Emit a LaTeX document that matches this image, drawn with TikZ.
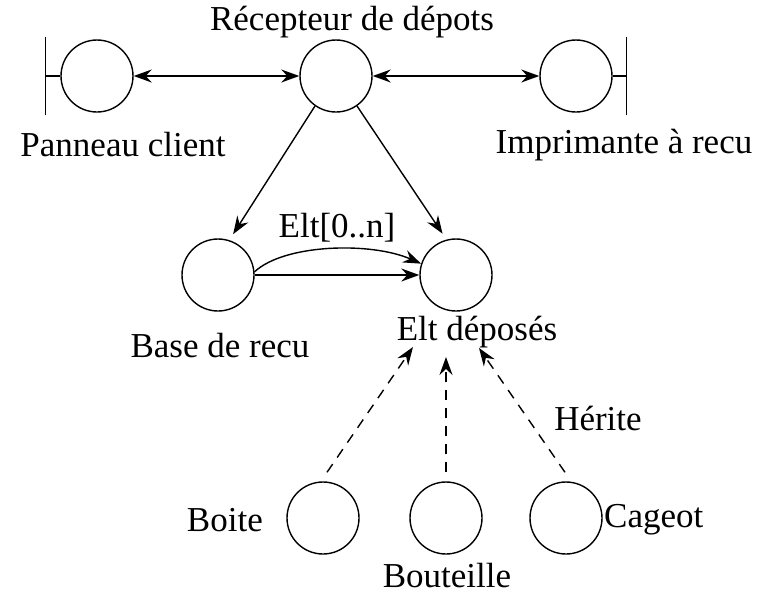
\documentclass[tikz,border=0pt]{standalone}
\usepackage{fontspec}
\setmainfont{Liberation Serif}
\usetikzlibrary{arrows.meta}
\begin{document}
\begin{tikzpicture}[x=1pt,y=-1pt,
  obj/.style={circle,draw,line width=1.4pt,minimum size=72pt,inner sep=0pt},
  lbl/.style={font=\fontsize{35}{37}\selectfont,inner sep=0pt},
  link/.style={line width=1.4pt,-{Stealth[length=18pt,width=13pt,inset=6pt]}},
  blink/.style={line width=1.4pt,{Stealth[length=18pt,width=13pt,inset=6pt]}-{Stealth[length=18pt,width=13pt,inset=6pt]}},
  inh/.style={link,dash pattern=on 10pt off 8pt}]
\useasboundingbox (0,0) rectangle (761,595);

% objects
\node[obj] (pc) at (97,76) {};
\node[obj] (rd) at (336,76) {};
\node[obj] (im) at (576,76) {};
\node[obj] (br) at (218,275) {};
\node[obj] (ed) at (456,275) {};
\node[obj] (bo) at (323,518) {};
\node[obj] (bt) at (446,518) {};
\node[obj] (ca) at (566,518) {};

% interface bars
\coordinate (pcb) at ([xshift=-15pt]pc.west);
\draw[line width=1.4pt] (pc.west) -- (pcb);
\draw[line width=1.4pt] ([yshift=-39pt]pcb) -- ([yshift=39pt]pcb);
\coordinate (imb) at ([xshift=14pt]im.east);
\draw[line width=1.4pt] (im.east) -- (imb);
\draw[line width=1.4pt] ([yshift=-39pt]imb) -- ([yshift=39pt]imb);

% labels
\node[lbl] (lrd) at (352,22) {Récepteur de dépots};
\node[lbl] (lpc) at (123,145) {Panneau client};
\node[lbl] (lim) at (624,145) {Imprimante à recu};
\node[lbl] (lbr) at (220,346) {Base de recu};
\node[lbl] (led) at (477,332) {Elt déposés};
\node[lbl] (lel) at (337,228) {Elt[0..n]};
\node[lbl] (lhe) at (598,418) {Hérite};
\node[lbl,anchor=east] (lbo) at (263,520) {Boite};
\node[lbl] (lbt) at (447,576) {Bouteille};
\node[lbl,anchor=west] (lca) at (604,520) {Cageot};

% heads of the inheritance arrows, just under the label
\coordinate (h1) at ([shift={(-43,72)}]ed.center);
\coordinate (h2) at ([shift={(-10,82)}]ed.center);
\coordinate (h3) at ([shift={(23,73)}]ed.center);

% connectors
\draw[blink] (pc.east) -- (rd.west);
\draw[blink] (rd.east) -- (im.west);
\draw[link,shorten >=7pt] (rd.235) -- (br.72);
\draw[link,shorten >=7pt] (rd.305) -- (ed.105);
\draw[link] (br.east) -- (ed.west);
\draw[link] (br.5) .. controls +(30,-28) and +(-50,-22) .. (ed.162);
\draw[inh] ([shift={(4,-9)}]bo.north) -- (h1);
\draw[inh] ([shift={(0,-9)}]bt.north) -- (h2);
\draw[inh] ([shift={(-1,-9)}]ca.north) -- (h3);
\end{tikzpicture}
\end{document}
